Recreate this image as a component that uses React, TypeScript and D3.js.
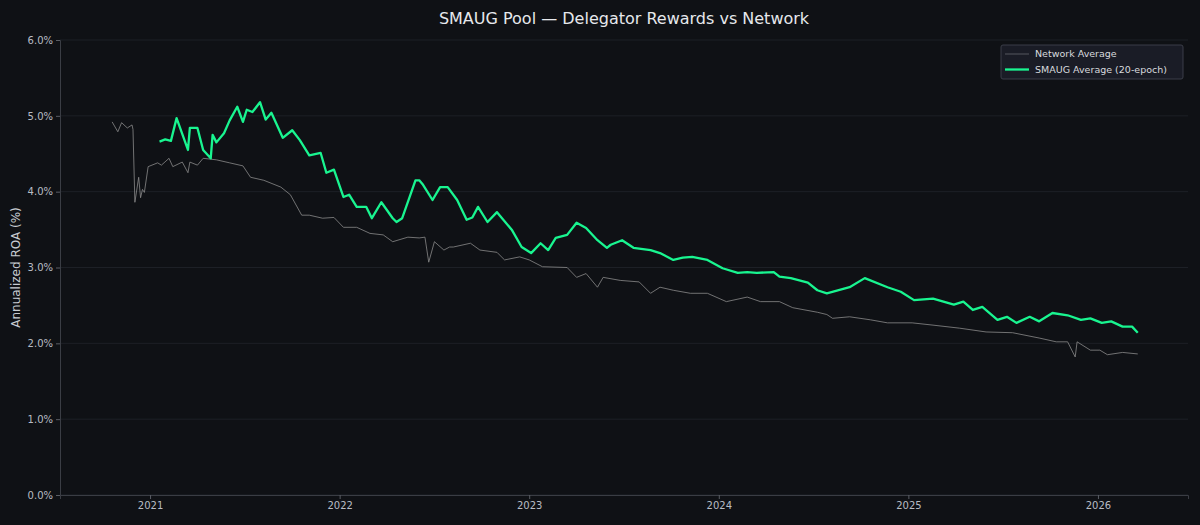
import React, { useEffect, useRef } from 'react';
import * as d3 from 'd3';

// [decimal year, annualized ROA %]
const networkAvg: [number, number][] = [
  [2020.80, 4.92], [2020.83, 4.79], [2020.85, 4.91], [2020.88, 4.84], [2020.905, 4.88], [2020.91, 4.82],
  [2020.92, 3.86], [2020.94, 4.19], [2020.95, 3.92], [2020.96, 4.03], [2020.97, 3.99], [2020.99, 4.33],
  [2021.04, 4.38], [2021.06, 4.35], [2021.10, 4.44], [2021.12, 4.33], [2021.17, 4.39], [2021.20, 4.25],
  [2021.21, 4.39], [2021.25, 4.35], [2021.28, 4.44], [2021.35, 4.42], [2021.42, 4.38], [2021.49, 4.34],
  [2021.53, 4.19], [2021.60, 4.15], [2021.69, 4.06], [2021.74, 3.96], [2021.80, 3.69], [2021.84, 3.69],
  [2021.91, 3.65], [2021.97, 3.66], [2022.02, 3.53], [2022.09, 3.53], [2022.16, 3.45], [2022.23, 3.43],
  [2022.28, 3.34], [2022.36, 3.40], [2022.42, 3.39], [2022.45, 3.40], [2022.47, 3.07], [2022.50, 3.34],
  [2022.55, 3.23], [2022.58, 3.27], [2022.60, 3.27], [2022.69, 3.32], [2022.74, 3.23], [2022.83, 3.20],
  [2022.87, 3.10], [2022.95, 3.14], [2023.00, 3.10], [2023.07, 3.01], [2023.20, 3.00], [2023.25, 2.87],
  [2023.30, 2.92], [2023.36, 2.74], [2023.39, 2.87], [2023.48, 2.83], [2023.58, 2.81], [2023.64, 2.66],
  [2023.69, 2.74], [2023.76, 2.70], [2023.85, 2.66], [2023.94, 2.66], [2024.04, 2.55], [2024.15, 2.61],
  [2024.22, 2.55], [2024.32, 2.55], [2024.39, 2.47], [2024.52, 2.41], [2024.57, 2.38], [2024.60, 2.33],
  [2024.69, 2.35], [2024.80, 2.31], [2024.89, 2.27], [2025.02, 2.27], [2025.13, 2.24], [2025.27, 2.20],
  [2025.41, 2.15], [2025.55, 2.14], [2025.69, 2.07], [2025.78, 2.02], [2025.84, 2.02], [2025.88, 1.82],
  [2025.89, 2.02], [2025.96, 1.91], [2026.01, 1.91], [2026.05, 1.85], [2026.13, 1.88], [2026.21, 1.86],
];

const smaugAvg: [number, number][] = [
  [2021.05, 4.66], [2021.08, 4.69], [2021.11, 4.67], [2021.14, 4.97], [2021.20, 4.55], [2021.21, 4.84],
  [2021.25, 4.84], [2021.28, 4.55], [2021.32, 4.44], [2021.33, 4.75], [2021.35, 4.65], [2021.39, 4.77],
  [2021.42, 4.94], [2021.46, 5.12], [2021.49, 4.92], [2021.51, 5.08], [2021.54, 5.05], [2021.58, 5.18],
  [2021.61, 4.95], [2021.64, 5.04], [2021.70, 4.71], [2021.75, 4.81], [2021.79, 4.68], [2021.84, 4.48],
  [2021.90, 4.51], [2021.93, 4.25], [2021.97, 4.29], [2022.02, 3.93], [2022.05, 3.96], [2022.09, 3.80],
  [2022.14, 3.80], [2022.17, 3.65], [2022.22, 3.86], [2022.28, 3.65], [2022.30, 3.60], [2022.33, 3.65],
  [2022.40, 4.15], [2022.42, 4.15], [2022.44, 4.09], [2022.49, 3.89], [2022.53, 4.06], [2022.57, 4.06],
  [2022.62, 3.89], [2022.67, 3.63], [2022.70, 3.66], [2022.73, 3.80], [2022.78, 3.60], [2022.83, 3.73],
  [2022.91, 3.49], [2022.96, 3.27], [2023.01, 3.19], [2023.06, 3.32], [2023.10, 3.23], [2023.14, 3.39],
  [2023.20, 3.43], [2023.25, 3.59], [2023.30, 3.52], [2023.36, 3.36], [2023.41, 3.26], [2023.43, 3.30],
  [2023.49, 3.36], [2023.55, 3.26], [2023.64, 3.23], [2023.69, 3.19], [2023.76, 3.10], [2023.81, 3.13],
  [2023.86, 3.14], [2023.94, 3.10], [2024.02, 2.99], [2024.10, 2.93], [2024.15, 2.94], [2024.20, 2.93],
  [2024.29, 2.94], [2024.32, 2.88], [2024.38, 2.86], [2024.47, 2.80], [2024.52, 2.70], [2024.57, 2.66],
  [2024.69, 2.74], [2024.77, 2.86], [2024.89, 2.74], [2024.96, 2.68], [2025.03, 2.57], [2025.13, 2.59],
  [2025.24, 2.51], [2025.29, 2.55], [2025.34, 2.44], [2025.39, 2.48], [2025.47, 2.31], [2025.52, 2.35],
  [2025.57, 2.27], [2025.64, 2.35], [2025.69, 2.29], [2025.76, 2.40], [2025.84, 2.37], [2025.91, 2.31],
  [2025.96, 2.33], [2026.02, 2.27], [2026.07, 2.29], [2026.13, 2.22], [2026.18, 2.22], [2026.21, 2.14],
];

const yearTicks = [2021, 2022, 2023, 2024, 2025, 2026];
const roaTicks = [0, 1, 2, 3, 4, 5, 6];

const W = 1200;
const H = 525;
const margin = { top: 40, right: 12, bottom: 30, left: 60 };

const App: React.FC = () => {
  const svgRef = useRef<SVGSVGElement>(null);

  useEffect(() => {
    if (!svgRef.current) return;
    const svg = d3.select(svgRef.current);
    svg.selectAll('*').remove();

    const x = d3.scaleLinear().domain([2020.525, 2026.475]).range([margin.left, W - margin.right]);
    const y = d3.scaleLinear().domain([0, 6]).range([H - margin.bottom, margin.top]);

    svg.append('rect').attr('width', W).attr('height', H).attr('fill', '#0f1115');

    // grid
    svg.append('g').selectAll('line').data(roaTicks).enter().append('line')
      .attr('x1', margin.left).attr('x2', W - margin.right)
      .attr('y1', d => y(d)).attr('y2', d => y(d))
      .attr('stroke', '#1d2026').attr('stroke-width', 1);

    const xAxis = svg.append('g').attr('transform', `translate(0,${H - margin.bottom})`)
      .call(d3.axisBottom(x).tickValues(yearTicks).tickFormat(d => String(d)).tickSize(4));
    const yAxis = svg.append('g').attr('transform', `translate(${margin.left},0)`)
      .call(d3.axisLeft(y).tickValues(roaTicks).tickFormat(d => `${(+d).toFixed(1)}%`).tickSize(4));
    [xAxis, yAxis].forEach(a => {
      a.select('.domain').attr('stroke', '#3a3d44');
      a.selectAll('.tick line').attr('stroke', '#5a5d64');
      a.selectAll('.tick text').attr('fill', '#b8bcc4').attr('font-size', 10)
        .attr('font-family', 'DejaVu Sans');
    });

    const line = d3.line<[number, number]>().x(d => x(d[0])).y(d => y(d[1]));

    svg.append('path').datum(networkAvg).attr('d', line).attr('fill', 'none')
      .attr('stroke', '#8a8a8a').attr('stroke-width', 0.8);
    svg.append('path').datum(smaugAvg).attr('d', line).attr('fill', 'none')
      .attr('stroke', '#19f590').attr('stroke-width', 2.3).attr('stroke-linejoin', 'round');

    // title + label
    svg.append('text').attr('x', (margin.left + W - margin.right) / 2).attr('y', 24)
      .attr('text-anchor', 'middle').attr('fill', '#e6e8ec').attr('font-size', 16)
      .attr('font-family', 'DejaVu Sans').text('SMAUG Pool — Delegator Rewards vs Network');
    svg.append('text').attr('transform', `translate(20,${(margin.top + H - margin.bottom) / 2}) rotate(-90)`)
      .attr('text-anchor', 'middle').attr('fill', '#c8ccd2').attr('font-size', 12)
      .attr('font-family', 'DejaVu Sans').text('Annualized ROA (%)');

    // legend
    const lg = svg.append('g').attr('transform', 'translate(1001,45)');
    lg.append('rect').attr('width', 182).attr('height', 34).attr('rx', 2)
      .attr('fill', '#1a1c26').attr('stroke', '#3a3d48');
    const items = [
      { label: 'Network Average', color: '#55575f', w: 1 },
      { label: 'SMAUG Average (20-epoch)', color: '#19f590', w: 2.3 },
    ];
    items.forEach((it, i) => {
      const yy = 9 + i * 15.5;
      lg.append('line').attr('x1', 4).attr('x2', 28).attr('y1', yy).attr('y2', yy)
        .attr('stroke', it.color).attr('stroke-width', it.w);
      lg.append('text').attr('x', 34).attr('y', yy).attr('dy', '0.35em')
        .attr('fill', '#d8dade').attr('font-size', 9.5).attr('font-family', 'DejaVu Sans')
        .text(it.label);
    });
  }, []);

  return <svg ref={svgRef} width={W} height={H} style={{ display: 'block', position: 'absolute', left: 0, top: 0 }} />;
};

export default App;
